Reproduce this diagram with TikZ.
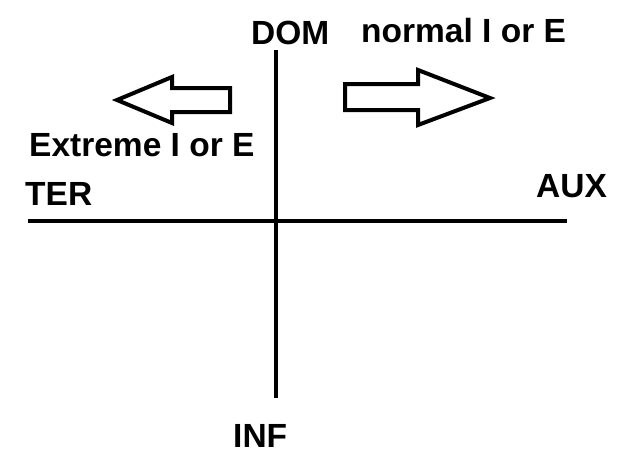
\documentclass[tikz,border=0pt]{standalone}
\usepackage{fontspec}
\setmainfont{Liberation Sans}
\usetikzlibrary{positioning,calc}
\tikzset{
    axisLine/.style={line width=4pt, draw=black},
    blockArrow/.style={line width=4pt, draw=black, fill=white, line join=miter},
    axisLabel/.style={
        font=\fontsize{33.5}{36}\selectfont\bfseries,
        anchor=base west,
        inner sep=0pt
    }
}
\begin{document}
\begin{tikzpicture}[x=1pt,y=-1pt]
\useasboundingbox (0,0) rectangle (626,467);
% axes
\coordinate (top) at (276,50);
\coordinate (bottom) at (276,398);
\coordinate (left) at (28,221);
\coordinate (right) at (567,221);
\draw[axisLine] (top) -- (bottom);
\draw[axisLine] (left) -- (right);
% labels
\node[axisLabel] (dom) at (251,44) {DOM};
\node[axisLabel] (normal) at (361,42) {normal I or E};
\node[axisLabel] (extreme) at (29,156) {Extreme I or E};
\node[axisLabel] (ter) at (25,205) {TER};
\node[axisLabel] (aux) at (536,197) {AUX};
\node[axisLabel] (inf) at (233,447) {INF};
% block arrows
\draw[blockArrow] (117,100) -- (172,77) -- (172,88) -- (230,88)
    -- (230,112) -- (172,112) -- (172,123) -- cycle;
\draw[blockArrow] (490,98) -- (418,70) -- (418,84) -- (345,84)
    -- (345,110) -- (418,110) -- (418,125) -- cycle;
\end{tikzpicture}
\end{document}
